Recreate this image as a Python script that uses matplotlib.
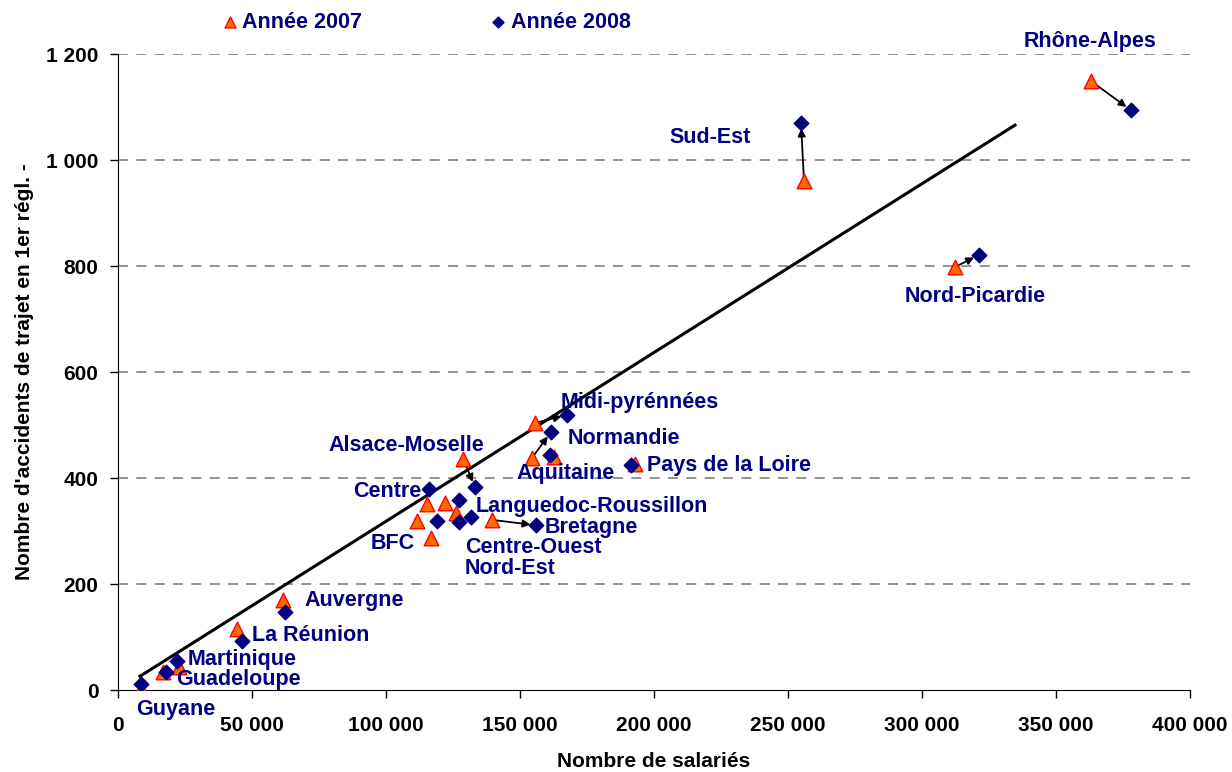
import numpy as np
import matplotlib
matplotlib.use('Agg')
import matplotlib.pyplot as plt
from matplotlib.ticker import FuncFormatter

plt.rcParams['font.family'] = ['Liberation Sans', 'DejaVu Sans']

regions = ['Rhône-Alpes', 'Sud-Est', 'Nord-Picardie', 'Pays de la Loire',
           'Midi-pyrénnées', 'Normandie', 'Aquitaine', 'Alsace-Moselle',
           'Centre', 'BFC', 'Languedoc-Roussillon', 'Centre-Ouest', 'Nord-Est',
           'Bretagne', 'Auvergne', 'La Réunion', 'Martinique', 'Guadeloupe', 'Guyane']

# Année 2007
sal_2007 = [363060, 255970, 312313, 192910, 155600, 154478, 162687, 128731,
            115299, 116791, 122015, 126119, 111567, 139552, 61567, 44403,
            22761, 16791, 8582]
acc_2007 = [1149, 960, 798, 426, 504, 438, 440, 436,
            351, 287, 353, 334, 319, 321, 170, 115,
            43, 34, 2]

# Année 2008
sal_2008 = [377985, 254850, 321269, 191418, 167537, 161567, 161194, 133209,
            116045, 119030, 127239, 131716, 127239, 155970, 62313, 46269,
            22015, 17910, 8582]
acc_2008 = [1094, 1070, 821, 424, 519, 487, 443, 383,
            379, 319, 358, 326, 317, 311, 147, 92,
            55, 34, 11]

# regions with an arrow 2007 -> 2008
arrow_regions = ['Rhône-Alpes', 'Sud-Est', 'Nord-Picardie', 'Midi-pyrénnées',
                 'Normandie', 'Alsace-Moselle', 'Bretagne']

# label positions (x, y, horizontal alignment)
labels = {
    'Rhône-Alpes': (362700, 1224, 'center'),
    'Sud-Est': (220900, 1043, 'center'),
    'Nord-Picardie': (319800, 743, 'center'),
    'Pays de la Loire': (197400, 424, 'left'),
    'Midi-pyrénnées': (165300, 543, 'left'),
    'Normandie': (167900, 475, 'left'),
    'Aquitaine': (148500, 409, 'left'),
    'Alsace-Moselle': (107500, 462, 'center'),
    'Centre': (113100, 374, 'right'),
    'BFC': (110800, 277, 'right'),
    'Languedoc-Roussillon': (133600, 347, 'left'),
    'Centre-Ouest': (129500, 268, 'left'),
    'Nord-Est': (129500, 230, 'left'),
    'Bretagne': (159300, 306, 'left'),
    'Auvergne': (69400, 168, 'left'),
    'La Réunion': (50000, 102, 'left'),
    'Martinique': (26100, 58, 'left'),
    'Guadeloupe': (21600, 19, 'left'),
    'Guyane': (6700, -36, 'left'),
}

# trend line
trend_x = [8200, 334700]
trend_slope = 0.003185
trend_icpt = -0.15

NAVY = '#000080'

fig = plt.figure(figsize=(12.32, 7.72), dpi=100)
ax = fig.add_axes([0.0958, 0.1062, 0.8701, 0.8238])

tx = np.array(trend_x)
ax.plot(tx, trend_slope * tx + trend_icpt, color='black', lw=2.2, zorder=2)

for r in arrow_regions:
    i = regions.index(r)
    ax.annotate('', xy=(sal_2008[i], acc_2008[i]), xytext=(sal_2007[i], acc_2007[i]),
                arrowprops=dict(arrowstyle='-|>', color='black', lw=1.3,
                                mutation_scale=11, shrinkA=3, shrinkB=4), zorder=3)

ax.scatter(sal_2007, acc_2007, marker='^', s=110, color='#FF6A00', edgecolors='#FF0000',
           linewidths=1.0, zorder=4, label='Année 2007')
ax.scatter(sal_2008, acc_2008, marker='D', s=55, color=NAVY, edgecolors=NAVY,
           zorder=5, label='Année 2008')

for r, (lx, ly, ha) in labels.items():
    ax.text(lx, ly, r, ha=ha, va='center', color=NAVY, fontsize=15.5,
            fontweight='bold', zorder=6)

ax.set_xlim(0, 400000)
ax.set_ylim(0, 1200)
ax.set_xticks(np.arange(0, 400001, 50000))
ax.set_yticks(np.arange(0, 1201, 200))
fmt = FuncFormatter(lambda v, p: f'{int(v):,}'.replace(',', ' '))
ax.xaxis.set_major_formatter(fmt)
ax.yaxis.set_major_formatter(fmt)
for lab in ax.get_xticklabels() + ax.get_yticklabels():
    lab.set_fontweight('bold')
ax.tick_params(axis='both', labelsize=15, direction='out', length=6, width=1)
ax.tick_params(axis='x', pad=13)
ax.tick_params(axis='y', pad=8)

for yv in range(200, 1201, 200):
    ax.axhline(yv, color='#808080', lw=1.2, ls=(0, (6, 5)), zorder=1)

ax.spines['top'].set_visible(False)
ax.spines['right'].set_visible(False)

ax.set_xlabel('Nombre de salariés', fontsize=15, fontweight='bold', labelpad=12)
ax.set_ylabel("Nombre d'accidents de trajet en 1er régl. -", fontsize=15,
              fontweight='bold', labelpad=9)

leg = ax.legend(loc='lower left', bbox_to_anchor=(0.088, 1.02), ncol=2, frameon=False,
                fontsize=15.5, columnspacing=5.9, handletextpad=0.2, handlelength=0.8,
                markerscale=0.75, borderaxespad=0)
for t in leg.get_texts():
    t.set_color(NAVY)
    t.set_fontweight('bold')

fig.savefig('out.png', dpi=100)
